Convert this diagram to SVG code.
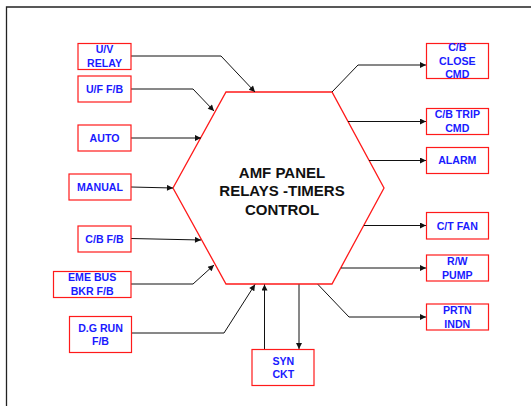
<svg xmlns="http://www.w3.org/2000/svg" width="531" height="406" viewBox="0 0 531 406">
<style>
.box{fill:#fff;stroke:#ff1a1a;stroke-width:1.2}
.lbl{font-family:"Liberation Sans",Arial,sans-serif;font-weight:bold;font-size:10.6px;fill:#1a1aff;text-anchor:middle}
.ttl{font-family:"Liberation Sans",Arial,sans-serif;font-weight:bold;font-size:15px;fill:#111;text-anchor:middle}
.con{fill:none;stroke:#111;stroke-width:1}
</style>
<defs>
<marker id="ah" viewBox="0 0 10 10" refX="10" refY="5" markerWidth="8" markerHeight="6" orient="auto" markerUnits="userSpaceOnUse"><path d="M0,0 L10,5 L0,10 z" fill="#111"/></marker>
</defs>
<rect x="0" y="0" width="531" height="406" fill="#fff"/>
<g id="frame" fill="none" stroke="#222" stroke-width="1.3">
<path d="M531,7 H6.5 V406"/>
</g>
<g id="hub">
<polygon points="226,92 332,92 384,188 332,284 226,284 173,188" fill="#fff" stroke="#ff1a1a" stroke-width="1.3"/>
<text class="ttl" x="282" y="177.5">AMF PANEL</text>
<text class="ttl" x="282" y="196">RELAYS -TIMERS</text>
<text class="ttl" x="282" y="214.5">CONTROL</text>
</g>
<g id="connectors" class="con">
<path class="con" d="M131,56 H221 L255,92" marker-end="url(#ah)"/>
<path class="con" d="M131,89 H193 L214,111" marker-end="url(#ah)"/>
<path class="con" d="M131,138 H201" marker-end="url(#ah)"/>
<path class="con" d="M131,187 L173,188" marker-end="url(#ah)"/>
<path class="con" d="M131,238.5 L201,240" marker-end="url(#ah)"/>
<path class="con" d="M131,284 H193 L214,265" marker-end="url(#ah)"/>
<path class="con" d="M132,333 H224 L255,284.5" marker-end="url(#ah)"/>
<path class="con" d="M264.5,349 V284.5" marker-end="url(#ah)"/>
<path class="con" d="M299,284.5 V349" marker-end="url(#ah)"/>
<path class="con" d="M332,92 L358,65 H426" marker-end="url(#ah)"/>
<path class="con" d="M348,121.5 H426" marker-end="url(#ah)"/>
<path class="con" d="M369,160.5 H426" marker-end="url(#ah)"/>
<path class="con" d="M364,225.5 H426" marker-end="url(#ah)"/>
<path class="con" d="M341,268 H426" marker-end="url(#ah)"/>
<path class="con" d="M318,284.5 L349,317 H426" marker-end="url(#ah)"/>
</g>
<g id="uv-relay"><rect class="box" x="78" y="43.5" width="53" height="26"/><text class="lbl" x="104.5" y="53.3">U/V</text><text class="lbl" x="104.5" y="67">RELAY</text></g>
<g id="uf-fb"><rect class="box" x="78" y="76" width="53" height="26"/><text class="lbl" x="104.5" y="92.8">U/F F/B</text></g>
<g id="auto"><rect class="box" x="78" y="125" width="53" height="26"/><text class="lbl" x="104.5" y="141.8">AUTO</text></g>
<g id="manual"><rect class="box" x="69" y="174" width="62" height="26"/><text class="lbl" x="100" y="190.8">MANUAL</text></g>
<g id="cb-fb"><rect class="box" x="78" y="226" width="53" height="26"/><text class="lbl" x="104.5" y="242.8">C/B F/B</text></g>
<g id="eme-bus"><rect class="box" x="53.5" y="271.5" width="77.5" height="26"/><text class="lbl" x="92.2" y="281.3">EME BUS</text><text class="lbl" x="92.2" y="295">BKR F/B</text></g>
<g id="dg-run"><rect class="box" x="69.5" y="316.5" width="62" height="36"/><text class="lbl" x="100.5" y="331.6">D.G RUN</text><text class="lbl" x="100.5" y="345.3">F/B</text></g>
<g id="syn-ckt"><rect class="box" x="252" y="349.5" width="62" height="36"/><text class="lbl" x="283.3" y="364.6">SYN</text><text class="lbl" x="283.3" y="378.3">CKT</text></g>
<g id="cb-close"><rect class="box" x="426.5" y="43.5" width="62" height="35"/><text class="lbl" x="457.3" y="51">C/B</text><text class="lbl" x="457.3" y="64.5">CLOSE</text><text class="lbl" x="457.3" y="78">CMD</text></g>
<g id="cb-trip"><rect class="box" x="426.5" y="108.5" width="62" height="26"/><text class="lbl" x="457.3" y="118.3">C/B TRIP</text><text class="lbl" x="457.3" y="132">CMD</text></g>
<g id="alarm"><rect class="box" x="426.5" y="147.5" width="62" height="26"/><text class="lbl" x="457.3" y="164.3">ALARM</text></g>
<g id="ct-fan"><rect class="box" x="426.5" y="212.5" width="62" height="26.5"/><text class="lbl" x="457.3" y="229.5">C/T FAN</text></g>
<g id="rw-pump"><rect class="box" x="426.5" y="255" width="62" height="26"/><text class="lbl" x="457.3" y="264.8">R/W</text><text class="lbl" x="457.3" y="278.5">PUMP</text></g>
<g id="prtn-indn"><rect class="box" x="426.5" y="304" width="62" height="26"/><text class="lbl" x="457.3" y="313.8">PRTN</text><text class="lbl" x="457.3" y="327.5">INDN</text></g>
</svg>
